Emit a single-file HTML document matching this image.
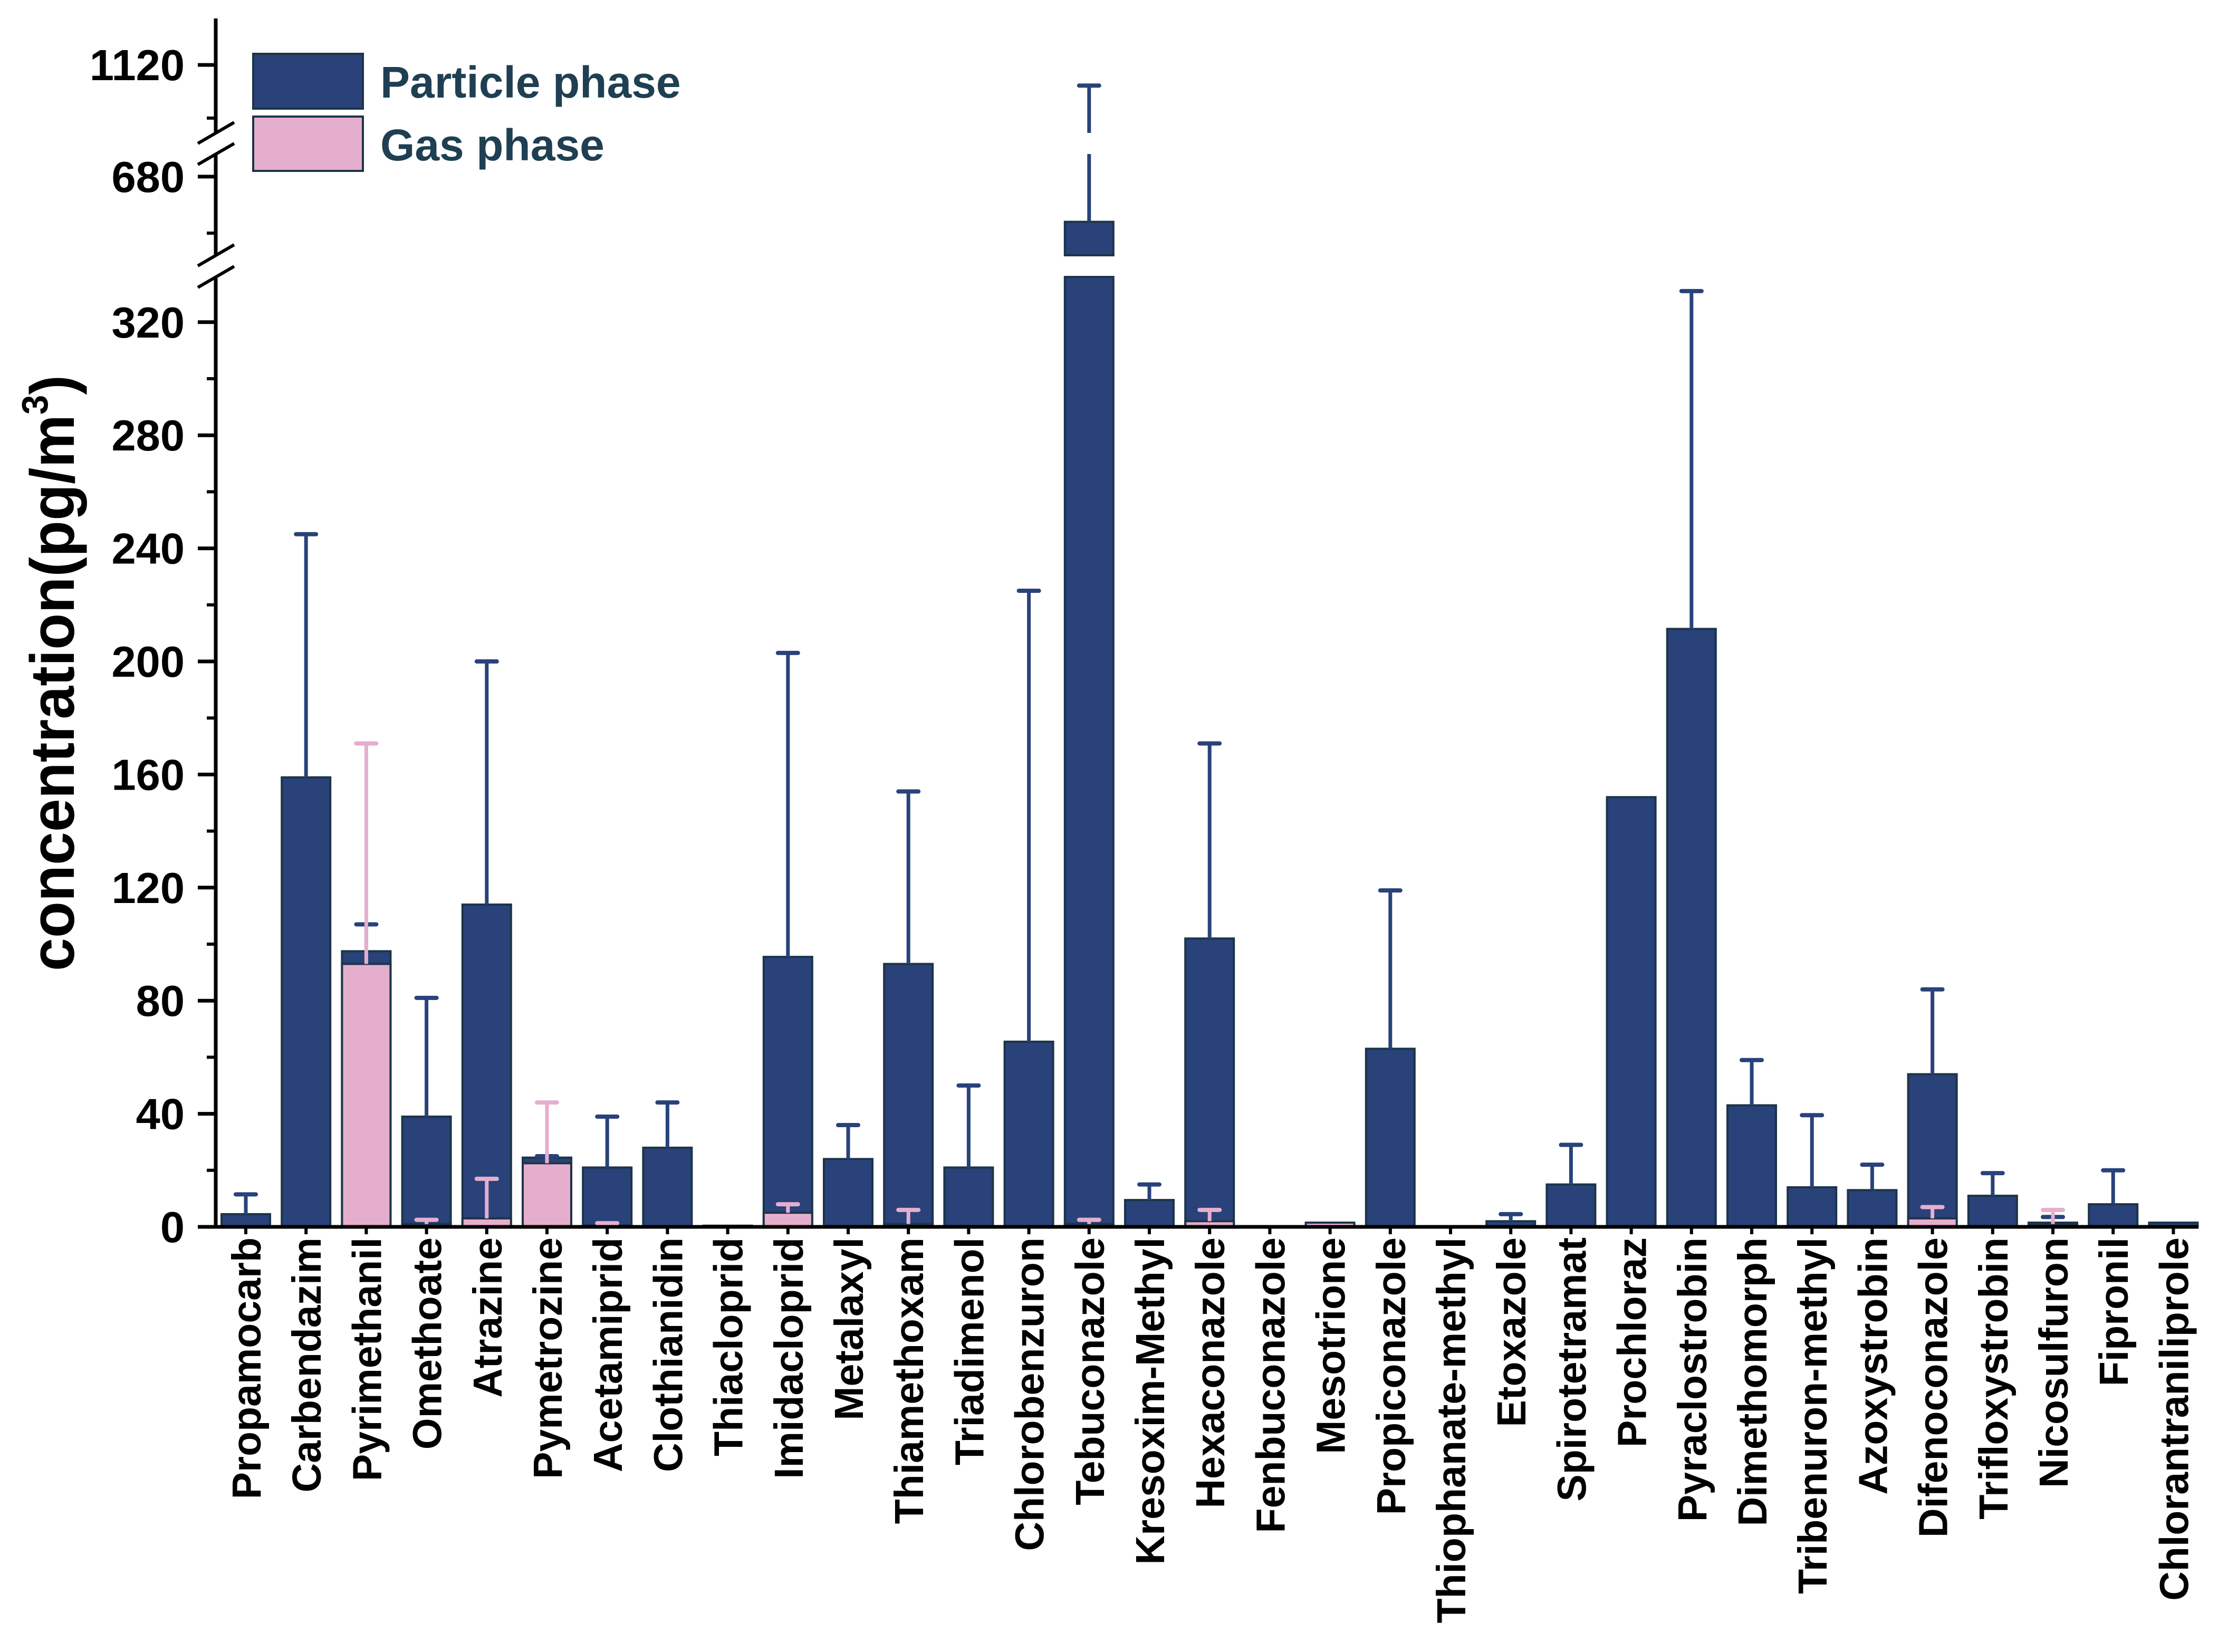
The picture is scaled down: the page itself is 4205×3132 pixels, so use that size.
<!DOCTYPE html>
<html><head><meta charset="utf-8"><style>
html,body{margin:0;padding:0;background:#fff;}
svg{display:block;font-family:"Liberation Sans",sans-serif;font-weight:bold;}
</style></head><body>
<svg id="chart" width="4205" height="3132" viewBox="0 0 4205 3132" xmlns="http://www.w3.org/2000/svg">
<text transform="translate(140,1841) rotate(-90)" font-size="118" fill="#000" textLength="1130" lengthAdjust="spacingAndGlyphs">concentration(pg/m<tspan font-size="70" dy="-50">3</tspan><tspan dy="50">)</tspan></text>
<g id="plot"></g>
<g id="legend">
<rect x="480" y="102" width="208" height="104" fill="#29427a" stroke="#1c3448" stroke-width="4"/>
<text x="721" y="185" font-size="84" fill="#1f3f52">Particle phase</text>
<rect x="480" y="221" width="208" height="103" fill="#e6aecd" stroke="#1c3448" stroke-width="4"/>
<text x="721" y="304" font-size="84" fill="#1f3f52">Gas phase</text>
</g>
</svg>
<script>
const categories=["Propamocarb","Carbendazim","Pyrimethanil","Omethoate","Atrazine","Pymetrozine","Acetamiprid","Clothianidin","Thiacloprid","Imidacloprid","Metalaxyl","Thiamethoxam","Triadimenol","Chlorobenzuron","Tebuconazole","Kresoxim-Methyl","Hexaconazole","Fenbuconazole","Mesotrione","Propiconazole","Thiophanate-methyl","Etoxazole","Spirotetramat","Prochloraz","Pyraclostrobin","Dimethomorph","Tribenuron-methyl","Azoxystrobin","Difenoconazole","Trifloxystrobin","Nicosulfuron","Fipronil","Chlorantraniliprole"];
const particleMean=[4.5,159,97.5,39,114,24.5,21,28,0.4,95.5,24,93,21,65.5,616,9.5,102,0,1,63,0,2,15,152,211.5,43,14,13,54,11,1.5,8,1.5];
const particleErr=[7,86,9.5,42,86,0.5,18,16,0,107.5,12,61,29,159.5,473,5.5,69,0,0,56,0,2.5,14,0,119.5,16,25.5,9,30,8,2,12,0];
const gasMean=[0,0,93,1,3,22.5,0.5,0,0.4,5,0,1,0,0,1,0,2,0,1.5,0.3,0,0,0,0,0,0,0,0,3,0,1,0,0];
const gasErr=[0,0,78,1.5,14,21.5,0.8,0,0,3,0,5,0,0,1.5,0,4,0,0,0,0,0,0,0,0,0,0,0,4,0,5,0,0];
const majorTicks=[0,40,80,120,160,200,240,280,320,680,1120];
const minorTicks=[20,60,100,140,180,220,260,300,600,1040];

const NS="http://www.w3.org/2000/svg";
const plot=document.getElementById('plot');
const AX=409, Y0=2326;
const segs=[[0,336,Y0,Y0-336*5.36],[568.6,712,484,292],[1017.7,1190,252,35]];
function y(v){
  for(const s of segs){ if(v<=s[1]||s===segs[2]){ if(v<s[0]) v=s[0]; return s[2]+(v-s[0])*(s[3]-s[2])/(s[1]-s[0]); } }
}
const X0=466, DX=114.2, BW=92;
function x(i){return X0+i*DX;}
function mk(tag,attrs){const e=document.createElementNS(NS,tag);for(const k in attrs)e.setAttribute(k,attrs[k]);plot.appendChild(e);return e;}
function pieces(a,b){const out=[];for(const s of segs){const lo=Math.max(a,s[0]),hi=Math.min(b,s[1]);if(hi>lo)out.push([lo,hi]);}return out;}

function drawBar(i,v,fill,name){
  for(const p of pieces(0,v)){
    const y1=y(p[1]),y2=y(p[0]);
    const r=mk('rect',{x:x(i)-BW/2,y:y1,width:BW,height:Math.max(y2-y1,1),fill:fill,stroke:'#1c3448','stroke-width':4});
    
    
  }
}
function drawErr(i,v,e,col,name){
  if(e<=0) return;
  for(const p of pieces(v,v+e)){
    const l=mk('line',{x1:x(i),x2:x(i),y1:y(p[0]),y2:y(p[1]),stroke:col,'stroke-width':7});
    
    
  }
  const c=mk('line',{x1:x(i)-19,x2:x(i)+19,y1:y(v+e),y2:y(v+e),stroke:col,'stroke-width':8,'stroke-linecap':'round'});
  
  
}
categories.forEach((c,i)=>{
  drawBar(i,particleMean[i],'#29427a','particle-bar');
  drawErr(i,particleMean[i],particleErr[i],'#29427a','particle-error');
  if(gasMean[i]>0){drawBar(i,gasMean[i],'#e6aecd','gas-bar');}
  drawErr(i,gasMean[i],gasErr[i],'#e6aecd','gas-error');
  const t=mk('text',{transform:`translate(${x(i)+28},2346) rotate(-90)`,'text-anchor':'end','font-size':77,fill:'#000'});
  t.textContent=c;
  
  
  const tk=mk('line',{x1:x(i),x2:x(i),y1:Y0,y2:Y0+14,stroke:'#000','stroke-width':6});
  
  
});
const axisParts=[[Y0+3,525],[484,292],[252,35]];
axisParts.forEach(p=>{
  const l=mk('line',{x1:AX,x2:AX,y1:p[0],y2:p[1],stroke:'#000','stroke-width':7});
  
  
});
const xa=mk('line',{x1:AX-3,x2:4168,y1:Y0,y2:Y0,stroke:'#000','stroke-width':7});


[252,292,484,525].forEach(yy=>{
  const b=mk('line',{x1:375,y1:yy+20,x2:444,y2:yy-20,stroke:'#000','stroke-width':6});
  
  
});
majorTicks.forEach(v=>{
  const t=mk('line',{x1:AX-34,x2:AX,y1:y(v),y2:y(v),stroke:'#000','stroke-width':7});
  
  
  const lb=mk('text',{x:350,y:y(v)+29,'text-anchor':'end','font-size':83,fill:'#000'});
  lb.textContent=String(v);
  
  
});
minorTicks.forEach(v=>{
  const t=mk('line',{x1:AX-17,x2:AX,y1:y(v),y2:y(v),stroke:'#000','stroke-width':6});
  
  
});
</script>
</body></html>
